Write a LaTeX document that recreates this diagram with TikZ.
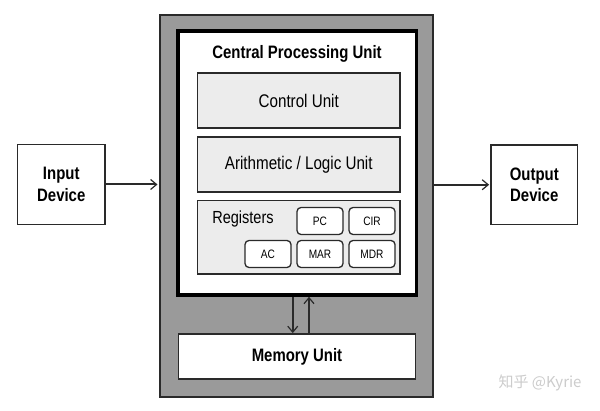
\documentclass[tikz,border=0pt]{standalone}
\usepackage{fontspec}
\setmainfont[FakeStretch=0.83]{Liberation Sans}
\newfontfamily\cjk{Noto Sans CJK SC}
\usetikzlibrary{arrows.meta}
\definecolor{outergray}{HTML}{9A9A9A}
\definecolor{boxgray}{HTML}{ECECEC}
\definecolor{edge}{HTML}{2A2A2A}
\tikzset{
  plainbox/.style={draw=edge, line width=1.8pt, fill=white, inner sep=0pt, align=center},
  unitbox/.style={draw=edge, line width=1.8pt, fill=boxgray, inner sep=0pt, minimum width=202.5pt},
  regbox/.style={draw=edge, line width=1.3pt, fill=white, rounded corners=4pt, inner sep=0pt,
     minimum width=46pt, minimum height=27pt, font=\fontsize{12.2}{14}\selectfont},
  arr/.style={draw=edge, line width=2pt, -{Straight Barb[length=6pt,width=10pt,line width=1.2pt]}},
  bigbold/.style={font=\fontsize{18}{21.5}\selectfont\bfseries},
  bigreg/.style={font=\fontsize{18.3}{21}\selectfont},
}
\begin{document}
\begin{tikzpicture}[x=1pt,y=-1pt]
\useasboundingbox (0,0) rectangle (600,411);
\fill[white] (0,0) rectangle (600,411);
% outer gray computer
\node[draw=edge, line width=2pt, fill=outergray, minimum width=273pt, minimum height=382pt, inner sep=0pt] (outer) at (296.5,206) {};
% CPU
\node[draw=black, line width=3.6pt, fill=white, minimum width=238.5pt, minimum height=264pt, inner sep=0pt] (cpu) at (297.25,163) {};
\node[bigbold] (title) at (297,54) {Central Processing Unit};
\node[unitbox, minimum height=55pt, bigreg] (cu) at (298.75,100.5) {Control Unit};
\node[unitbox, minimum height=55pt, bigreg] (alu) at (298.75,164.5) {Arithmetic / Logic Unit};
\node[unitbox, minimum height=73.5pt] (regs) at (298.75,237.25) {};
\node[font=\fontsize{17.5}{19}\selectfont] (reglabel) at (243,219) {Registers};
\node[regbox] (pc) at (320,221) {PC};
\node[regbox] (cir) at (372,221) {CIR};
\node[regbox] (ac) at (268,254) {AC};
\node[regbox] (mar) at (320,254) {MAR};
\node[regbox] (mdr) at (372,254) {MDR};
% memory
\node[plainbox, minimum width=237pt, minimum height=45pt, bigbold] (mem) at (297,356.5) {Memory Unit};
% devices
\node[plainbox, minimum width=87.5pt, minimum height=80pt, bigbold] (input) at (61.25,184.5) {Input\\Device};
\node[plainbox, minimum width=86.5pt, minimum height=79.5pt, bigbold] (output) at (534.25,184.75) {Output\\Device};
% connectors
\draw[arr, shorten >=1.5pt] (input.east) -- (input.east -| outer.west);
\draw[arr, shorten >=1pt] (output.west -| outer.east) -- (output.west);
\draw[arr] ([xshift=-4.5pt]cpu.south) -- ([xshift=-4.5pt]cpu.south |- mem.north);
\draw[arr] ([xshift=11.75pt]cpu.south |- mem.north) -- ([xshift=11.75pt]cpu.south);
% watermark
\node[text=black!20, font=\cjk\fontsize{15}{18}\selectfont] (wm) at (540,383) {知乎 @Kyrie};
\end{tikzpicture}
\end{document}
